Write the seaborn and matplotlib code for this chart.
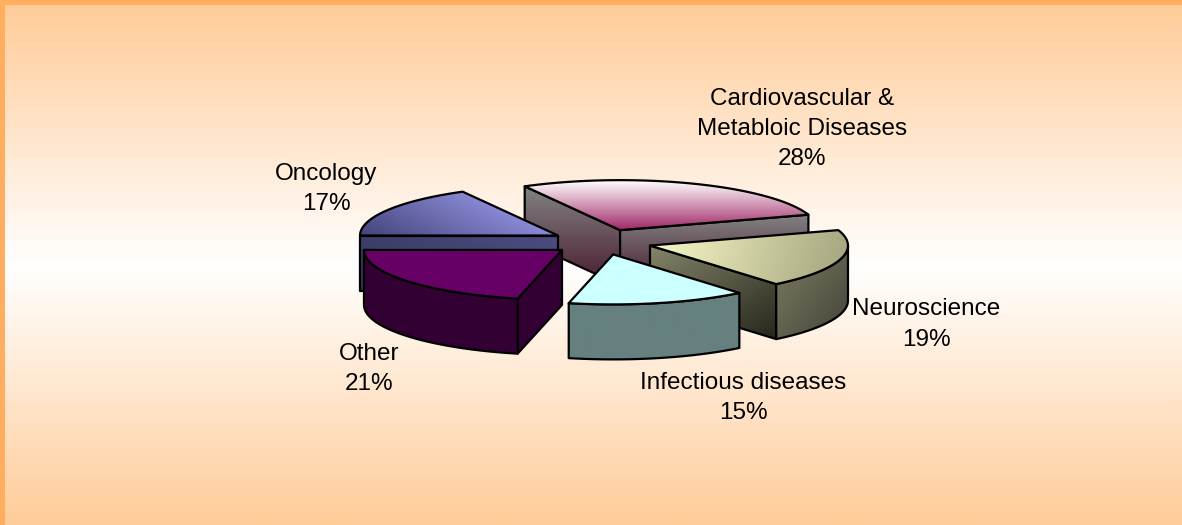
import numpy as np
import seaborn as sns
import matplotlib.pyplot as plt
from matplotlib.patches import Polygon

# chart values, the labels show them rounded
categories = ["Cardiovascular &\nMetabloic Diseases", "Neuroscience", "Infectious diseases", "Other", "Oncology"]
shares = [28, 19, 14.6, 21.4, 17]

# layout, all in pixels of the 1182x525 picture
label_pos = [(802, 129), (926, 324.5), (743, 398), (369, 369), (326, 189)]
first_angle = 331.2
cx, cy = 601.5, 242
rx, ry = 198, 50
depth = 55
explode = 0.255
draw_order = [0, 4, 1, 3, 2]

# gradient styles: (start colour, end colour, direction x, direction y)
top_style = [
    ("#ffffff", "#a02a68", 0, 1),
    ("#fafac8", "#a3a37e", 1, 0.3),
    ("#ccffff", "#ccffff", 0, 1),
    ("#660066", "#660066", 0, 1),
    ("#a8a8ff", "#44447a", -0.5, 1),
]
cut_style = [
    ("#828282", "#4a1c30", 0, 1),
    ("#85856a", "#26261c", 0.6, 1),
    ("#668080", "#668080", 0, 1),
    ("#330033", "#330033", 0, 1),
    ("#4c4c80", "#36365e", -0.5, 1),
]
wall_style = [
    ("#808080", "#808080", 0, 1),
    ("#7d7d62", "#44443a", 0.8, 0.6),
    ("#668080", "#668080", 0, 1),
    ("#330033", "#330033", 0, 1),
    ("#1c1c38", "#1c1c38", 0, 1),
]

sns.set_theme(style="white")
plt.rcParams["font.family"] = ["Liberation Sans", "DejaVu Sans"]

fig = plt.figure(figsize=(11.82, 5.25), dpi=100, facecolor="#ffae60")
ax = fig.add_axes([0, 0, 1, 1])
ax.set_axis_off()
ax.set_autoscale_on(False)
ax.set_xlim(0, 1182)
ax.set_ylim(525, 0)

z = [1]


def next_z():
    z[0] += 1
    return z[0]


# fill a polygon with a linear gradient, then outline it
def grad_poly(pts, style):
    c0, c1, dx, dy = style
    pts = np.asarray(pts)
    x0, y0 = pts.min(axis=0)
    x1, y1 = pts.max(axis=0)
    gx, gy = np.meshgrid(np.linspace(0, 1, 64), np.linspace(0, 1, 64))
    g = gx * dx * (x1 - x0) + gy * dy * (y1 - y0)
    g = (g - g.min()) / max(g.max() - g.min(), 1e-9)
    cmap = sns.blend_palette([c0, c1], as_cmap=True)
    zo = next_z()
    im = ax.imshow(g, cmap=cmap, vmin=0, vmax=1, extent=(x0, x1, y1, y0), aspect="auto", zorder=zo,
                   interpolation="bilinear")
    clip = Polygon(pts, closed=True, transform=ax.transData, fc="none", ec="none")
    ax.add_patch(clip)
    im.set_clip_path(clip)
    ax.add_patch(Polygon(pts, closed=True, fc="none", ec="black", lw=1.6, joinstyle="round", zorder=zo))


def rim(apex, deg):
    t = np.radians(deg)
    return np.column_stack([apex[0] + rx * np.sin(t), apex[1] - ry * np.cos(t)])


def draw_slice(i, a, b):
    # keep the start angle inside 0..360, the wall test below needs it
    turn = 360 * np.floor(a / 360)
    a, b = a - turn, b - turn
    mid = np.radians((a + b) / 2)
    apex = (cx + explode * rx * np.sin(mid), cy - explode * ry * np.cos(mid))
    down = np.array([0, depth])

    # cut faces that turn towards the viewer
    if np.sin(np.radians(a)) < 0:
        p = rim(apex, np.array([a]))[0]
        grad_poly([apex, p, p + down, np.array(apex) + down], cut_style[i])
    if np.sin(np.radians(b)) > 0:
        p = rim(apex, np.array([b]))[0]
        grad_poly([apex, p, p + down, np.array(apex) + down], cut_style[i])

    # outer wall, front half of the ellipse only
    lo, hi = max(a, 90), min(b, 270)
    if hi > lo:
        arc = rim(apex, np.linspace(lo, hi, 60))
        grad_poly(np.vstack([arc, (arc + down)[::-1]]), wall_style[i])

    # top face
    arc = rim(apex, np.linspace(a, b, 80))
    grad_poly(np.vstack([[apex], arc]), top_style[i])


# background, peach to white and back, with a strip of the figure colour left at top and left
bg = np.abs(np.linspace(-1, 1, 256)).reshape(-1, 1)
ax.imshow(bg, cmap=sns.blend_palette(["#ffffff", "#ffcc99"], as_cmap=True), vmin=0, vmax=1,
          extent=(5, 1182, 525, 5), aspect="auto", zorder=1)

edges = first_angle + np.cumsum([0] + shares) * 3.6
for i in draw_order:
    draw_slice(i, edges[i], edges[i + 1])

for name, share, (x, y) in zip(categories, shares, label_pos):
    ax.text(x, y, f"{name}\n{share:.0f}%", ha="center", va="center", fontsize=17.5, color="black",
            linespacing=1.48, zorder=100)

fig.savefig("out.png", dpi=100, facecolor=fig.get_facecolor())
